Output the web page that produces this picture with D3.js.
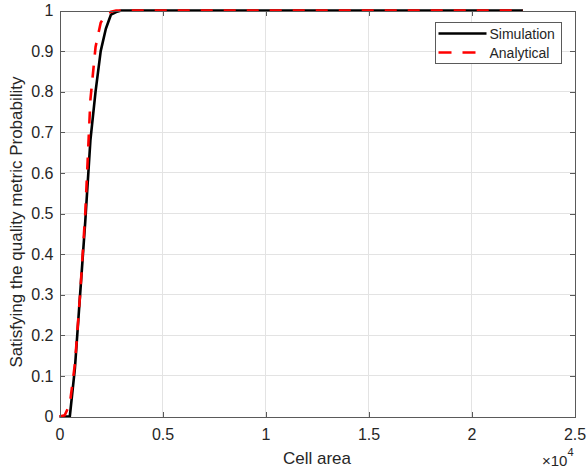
<!DOCTYPE html>
<html>
<head>
<meta charset="utf-8">
<script src="https://cdn.jsdelivr.net/npm/d3@7"></script>
<style>
  html, body { margin: 0; padding: 0; background: #fff; }
  text { font-family: "Liberation Sans", Arial, sans-serif; fill: #262626; }
</style>
</head>
<body>
<div class="canvas"></div>
<script>
// cell area (x) and probability (y)
const simX = [0, 250, 500, 750, 1000, 1250, 1500, 1750, 2000, 2250, 2500, 2750, 3000, 5000, 10000, 15000, 20000, 22500];
const simY = [0, 0, 0, 0.12, 0.30, 0.48, 0.68, 0.80, 0.90, 0.955, 0.99, 0.996, 1, 1, 1, 1, 1, 1];

const anaX = [0, 250, 500, 750, 1000, 1250, 1500, 1750, 2000, 2250, 2500, 2750, 3000, 5000, 10000, 15000, 20000, 22500];
const anaY = [0, 0.003, 0.03, 0.13, 0.30, 0.50, 0.78, 0.91, 0.97, 0.99, 0.997, 1, 1, 1, 1, 1, 1, 1];

const xTicks = [0, 5000, 10000, 15000, 20000, 25000];
const xTickLabels = ["0", "0.5", "1", "1.5", "2", "2.5"];
const yTicks = [0, 0.1, 0.2, 0.3, 0.4, 0.5, 0.6, 0.7, 0.8, 0.9, 1];
const yTickLabels = ["0", "0.1", "0.2", "0.3", "0.4", "0.5", "0.6", "0.7", "0.8", "0.9", "1"];

const seriesNames = ["Simulation", "Analytical"];
const seriesColors = ["#000000", "#ff0000"];

const width = 587;
const height = 469;
const marginLeft = 59.5;
const marginRight = 12.5;
const marginTop = 10.5;
const marginBottom = 52.5;

const x = d3.scaleLinear()
            .domain([0, 25000])
            .range([marginLeft, width - marginRight]);

const y = d3.scaleLinear()
            .domain([0, 1])
            .range([height - marginBottom, marginTop]);

const svg = d3.select(".canvas").append("svg")
              .attr("width", width)
              .attr("height", height);

// grid
svg.append("g")
  .selectAll("line")
  .data(xTicks.slice(1, -1))
  .join("line")
    .attr("x1", d => x(d)).attr("x2", d => x(d))
    .attr("y1", y(0)).attr("y2", y(1))
    .attr("stroke", "#e3e3e3")
    .attr("shape-rendering", "crispEdges");

svg.append("g")
  .selectAll("line")
  .data(yTicks.slice(1, -1))
  .join("line")
    .attr("x1", x(0)).attr("x2", x(25000))
    .attr("y1", d => y(d)).attr("y2", d => y(d))
    .attr("stroke", "#e3e3e3")
    .attr("shape-rendering", "crispEdges");

// lines
const line = d3.line()
  .x(d => x(d[0]))
  .y(d => y(d[1]));

const simData = simX.map((v, i) => [v, simY[i]]);
const anaData = anaX.map((v, i) => [v, anaY[i]]);

svg.append("path")
  .datum(simData)
  .attr("d", line)
  .attr("fill", "none")
  .attr("stroke", seriesColors[0])
  .attr("stroke-width", 2.6)
  .attr("stroke-linejoin", "round");

svg.append("path")
  .datum(anaData)
  .attr("d", line)
  .attr("fill", "none")
  .attr("stroke", seriesColors[1])
  .attr("stroke-width", 2.6)
  .attr("stroke-dasharray", "12,11");

// axes with inward ticks, box on
const axisColor = "#5a5a5a";
const tickLen = 5;

const xAxis = d3.axisBottom(x).tickValues(xTicks).tickSize(-tickLen)
  .tickFormat((d, i) => xTickLabels[i]).tickPadding(12);
const yAxis = d3.axisLeft(y).tickValues(yTicks).tickSize(-tickLen)
  .tickFormat((d, i) => yTickLabels[i]).tickPadding(6);
const xAxisTop = d3.axisTop(x).tickValues(xTicks).tickSize(-tickLen).tickFormat("");
const yAxisRight = d3.axisRight(y).tickValues(yTicks).tickSize(-tickLen).tickFormat("");

const gx = svg.append("g").attr("transform", translate(0, y(0))).call(xAxis);
const gy = svg.append("g").attr("transform", translate(x(0), 0)).call(yAxis);
const gxt = svg.append("g").attr("transform", translate(0, y(1))).call(xAxisTop);
const gyr = svg.append("g").attr("transform", translate(x(25000), 0)).call(yAxisRight);

[gx, gy, gxt, gyr].forEach(g => {
  g.select(".domain").attr("stroke", axisColor).attr("shape-rendering", "crispEdges");
  g.selectAll(".tick line").attr("stroke", axisColor).attr("shape-rendering", "crispEdges");
  g.selectAll(".tick text")
    .attr("font-size", 16)
    .attr("font-family", "Liberation Sans, Arial, sans-serif")
    .attr("fill", "#262626");
});

// exponent label
const expo = svg.append("text")
  .attr("x", x(25000) - 1)
  .attr("y", 465.5)
  .attr("text-anchor", "end")
  .attr("font-size", 15);
expo.append("tspan").text("\u00d710");
expo.append("tspan").attr("dy", -10).attr("font-size", 11).text("4");

// axis labels
svg.append("text")
  .attr("x", (x(0) + x(25000)) / 2)
  .attr("y", 463.5)
  .attr("text-anchor", "middle")
  .attr("font-size", 17)
  .text("Cell area");

svg.append("text")
  .attr("transform", translate(22, 222) + " rotate(-90)")
  .attr("text-anchor", "middle")
  .attr("font-size", 17)
  .text("Satisfying the quality metric Probability");

// legend
const legend = svg.append("g").attr("transform", translate(435.5, 22.5));
legend.append("rect")
  .attr("width", 126)
  .attr("height", 41)
  .attr("fill", "#fff")
  .attr("stroke", axisColor)
  .attr("shape-rendering", "crispEdges");

seriesNames.forEach((name, i) => {
  const row = legend.append("g").attr("transform", translate(0, 11 + i * 19));
  row.append("line")
    .attr("x1", 3).attr("x2", 51)
    .attr("stroke", seriesColors[i])
    .attr("stroke-width", 2.6)
    .attr("stroke-dasharray", i === 1 ? "13,11" : null);
  row.append("text")
    .attr("x", 54)
    .attr("y", 5)
    .attr("font-size", 14)
    .text(name);
});

function translate(x, y) {
  return "translate(" + x + ", " + y + ")";
}
</script>
</body>
</html>
